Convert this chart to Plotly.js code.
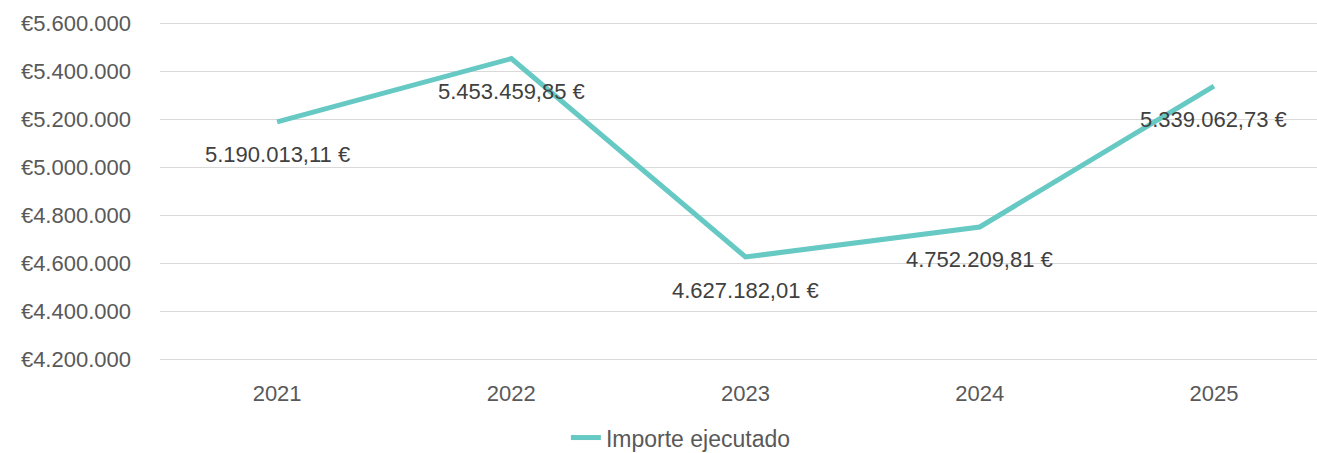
<!DOCTYPE html>
<html>
<head>
<meta charset="utf-8">
<script src="https://cdn.plot.ly/plotly-3.0.1.min.js"></script>
<style>
  html, body { margin: 0; padding: 0; background: #fff; }
  #chart { width: 1317px; height: 453px; }
</style>
</head>
<body>
<div id="chart"></div>
<script>
// Importe ejecutado por año
const years = ["2021", "2022", "2023", "2024", "2025"];
const importe = [5190013.11, 5453459.85, 4627182.01, 4752209.81, 5339062.73];
const yTicks = [4200000, 4400000, 4600000, 4800000, 5000000, 5200000, 5400000, 5600000];

const EUR = "\u20ac";
const LINE = "#66c9c3";
const FONT = "'Liberation Sans', Arial, sans-serif";

function miles(n) {
  return String(n).replace(/\B(?=(\d{3})+(?!\d))/g, ".");
}
function euro(v) {
  const parts = v.toFixed(2).split(".");
  return miles(parts[0]) + "," + parts[1] + " " + EUR;
}

const labels = years.map((y, i) => ({
  x: i, y: importe[i], xref: "x", yref: "y",
  text: euro(importe[i]), showarrow: false, yshift: -33,
  font: { family: FONT, size: 22, color: "#404040" },
}));

Plotly.newPlot("chart", [{
  type: "scatter", mode: "lines", name: "Importe ejecutado",
  x: years, y: importe,
  line: { color: LINE, width: 5 },
}], {
  width: 1317, height: 453,
  margin: { l: 160, r: 0, t: 22, b: 92, autoexpand: false },
  paper_bgcolor: "#fff", plot_bgcolor: "#fff",
  font: { family: FONT, size: 22, color: "#595959" },
  xaxis: {
    type: "category", range: [-0.5, 4.44], automargin: false,
    showgrid: false, zeroline: false, showline: false,
    ticks: "", ticklabelstandoff: 17, tickfont: { size: 22, color: "#595959" },
  },
  yaxis: {
    range: [4194000, 5606000], tickmode: "array", automargin: false,
    tickvals: yTicks, ticktext: yTicks.map(v => EUR + miles(v)),
    showgrid: true, gridcolor: "#d9d9d9", gridwidth: 1.5,
    zeroline: false, showline: false, ticks: "", ticklabelstandoff: 28,
    tickfont: { size: 22, color: "#595959" },
  },
  annotations: labels,
  showlegend: true,
  legend: {
    orientation: "h", xref: "container", yref: "container",
    x: 0.517, xanchor: "center", y: 0.034, yanchor: "middle",
    font: { size: 23, color: "#595959" },
  },
}, { displayModeBar: false, staticPlot: true });
</script>
</body>
</html>
